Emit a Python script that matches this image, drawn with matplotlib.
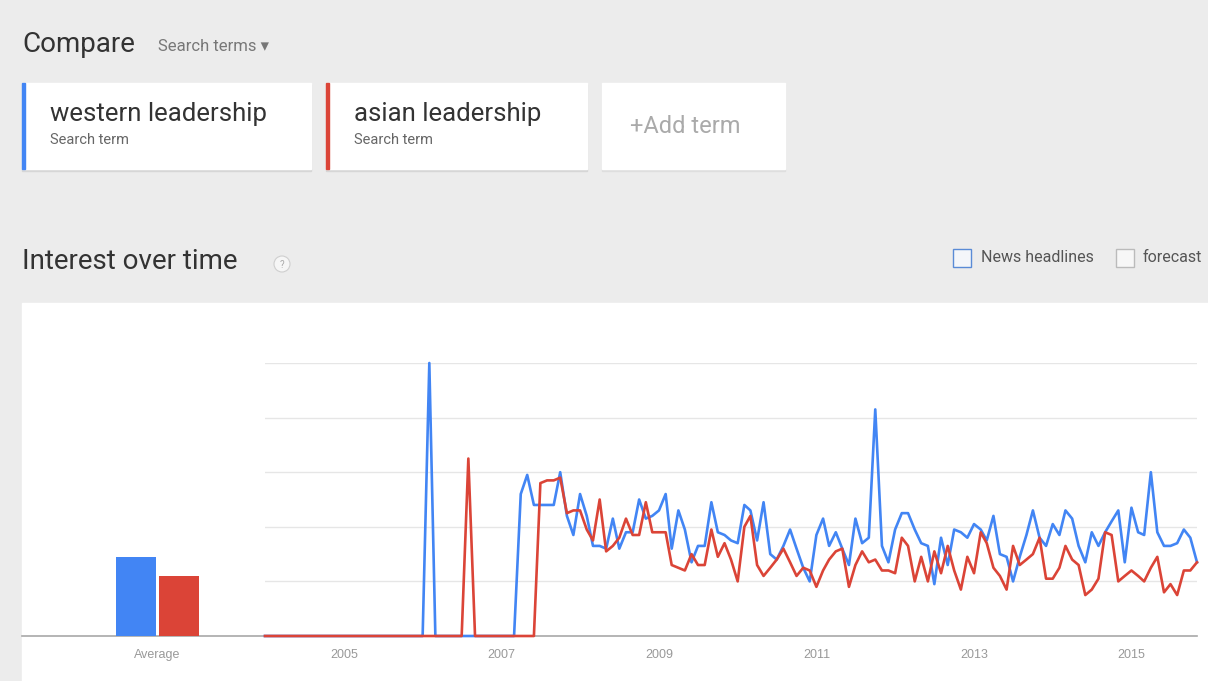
import matplotlib.pyplot as plt
from matplotlib.patches import Rectangle, Circle
import pandas as pd

W, H = 1208, 681

# monthly Google Trends interest, Jan 2004 .. Nov 2015
months = pd.date_range("2004-01-01", "2015-11-01", freq="MS")

western = ([0] * 25 + [100] + [0] * 13 +
           [52, 59, 48, 48, 48, 48, 60, 44, 37, 52, 44, 33, 33, 32, 43, 32, 38, 38, 50, 43,
            44, 46, 52, 32, 46, 39, 27, 33, 33, 49, 38, 37, 35, 34, 48, 46, 35, 49, 30, 28,
            33, 39, 32, 25, 20, 37, 43, 33, 38, 32, 26, 43, 34, 36, 83, 33, 27, 39, 45, 45,
            39, 34, 33, 19, 36, 26, 39, 38, 36, 41, 39, 35, 44, 30, 29, 20, 29, 37, 46, 36,
            33, 41, 37, 46, 43, 33, 27, 38, 33, 38, 42, 46, 27, 47, 38, 37, 60, 38, 33, 33,
            34, 39, 36, 27])

asian = ([0] * 31 + [65] + [0] * 10 +
         [56, 57, 57, 58, 45, 46, 46, 39, 35, 50, 31, 33, 36, 43, 37, 37, 49, 38, 38, 38,
          26, 25, 24, 30, 26, 26, 39, 29, 34, 28, 20, 40, 44, 26, 22, 25, 28, 32, 27, 22,
          25, 24, 18, 24, 28, 31, 32, 18, 26, 31, 27, 28, 24, 24, 23, 36, 33, 20, 29, 20,
          31, 23, 33, 24, 17, 29, 23, 38, 34, 25, 22, 17, 33, 26, 28, 30, 36, 21, 21, 25,
          33, 28, 26, 15, 17, 21, 38, 37, 20, 22, 24, 22, 20, 25, 29, 16, 19, 15, 24, 24,
          27])

terms = ["western leadership", "asian leadership"]
averages = [29, 22]
year_ticks = [2005, 2007, 2009, 2011, 2013, 2015]

BLUE = "#4285f4"
RED = "#db4437"
UI = ["Roboto", "DejaVu Sans"]
AX = ["Liberation Sans", "DejaVu Sans"]


def box(x0, y0, x1, y1):
    # pixel rectangle (top-left origin) -> figure fraction
    return [x0 / W, 1 - y1 / H, (x1 - x0) / W, (y1 - y0) / H]


fig = plt.figure(figsize=(W / 100, H / 100), dpi=100)
fig.patch.set_facecolor("#ececec")

# page furniture drawn in pixel coordinates
bg = fig.add_axes([0, 0, 1, 1])
bg.set_xlim(0, W)
bg.set_ylim(H, 0)
bg.axis("off")

bg.text(22, 52, "Compare", fontsize=20, color="#333333", family=UI)
bg.text(158, 51, "Search terms \u25be", fontsize=12, color="#777777", family=UI)

cards = [(22, 311, terms[0], BLUE), (326, 587, terms[1], RED)]
for x0, x1, label, col in cards:
    bg.add_patch(Rectangle((x0, 84), x1 - x0, 87, color="#d6d6d6", zorder=1))
    bg.add_patch(Rectangle((x0, 83), x1 - x0, 86, color="white", zorder=2))
    bg.add_patch(Rectangle((x0, 83), 3, 86, color=col, zorder=3))
    bg.text(x0 + 28, 121, label, fontsize=18.5, color="#333333", family=UI, zorder=4)
    bg.text(x0 + 28, 144, "Search term", fontsize=10.5, color="#666666", family=UI, zorder=4)
bg.add_patch(Rectangle((602, 84), 183, 87, color="#dedede", zorder=1))
bg.add_patch(Rectangle((602, 83), 183, 86, color="white", zorder=2))
bg.text(630, 133, "+Add term", fontsize=17, color="#aaaaaa", family=UI, zorder=4)

bg.text(22, 269, "Interest over time", fontsize=20, color="#333333", family=UI)
bg.add_patch(Circle((282, 264), 8, facecolor="#f6f6f6", edgecolor="#cfcfcf", lw=0.8))
bg.text(282, 264.5, "?", fontsize=7, color="#aaaaaa", ha="center", va="center", family=UI)

bg.add_patch(Rectangle((953, 249), 18, 18, facecolor="#f4f6fa", edgecolor="#5a8bd6", lw=1))
bg.text(981, 258, "News headlines", fontsize=11.5, color="#555555", va="center", family=UI)
bg.add_patch(Rectangle((1116, 249), 18, 18, facecolor="#f7f7f7", edgecolor="#bbbbbb", lw=1))
bg.text(1143, 258, "forecast", fontsize=11.5, color="#555555", va="center", family=UI)

bg.add_patch(Rectangle((22, 303), W - 22, H - 303, color="white", zorder=0))

# average bars
axb = fig.add_axes(box(22, 363, 265, 636))
axb.patch.set_alpha(0)
axb.bar([-0.5, 0.5], averages, width=0.95, color=[BLUE, RED], zorder=3)
axb.set_xlim(-3.15, 2.5)
axb.set_ylim(0, 100)
axb.set_yticks([])
axb.set_xticks([0])
axb.set_xticklabels(["Average"], fontsize=9, color="#999999", family=AX)
axb.tick_params(axis="x", length=0, pad=9.5)
for s in ["top", "left", "right"]:
    axb.spines[s].set_visible(False)
axb.spines["bottom"].set_color("#a8a8a8")
axb.spines["bottom"].set_linewidth(1.2)

# time series
ax = fig.add_axes(box(265, 363, 1197, 636))
ax.patch.set_alpha(0)
ax.plot(months, western, color=BLUE, lw=1.9, clip_on=False, zorder=3)
ax.plot(months, asian, color=RED, lw=1.9, clip_on=False, zorder=4)
ax.set_xlim(months[0], months[-1])
ax.set_ylim(0, 100)
ax.set_yticks([20, 40, 60, 80, 100])
ax.yaxis.grid(True, color="#e6e6e6", lw=1)
ax.tick_params(axis="y", length=0, labelleft=False)
ax.set_xticks([pd.Timestamp(f"{y}-01-01") for y in year_ticks])
ax.set_xticklabels([str(y) for y in year_ticks], fontsize=9, color="#999999", family=AX)
ax.tick_params(axis="x", length=0, pad=9.5)
for s in ["top", "left", "right"]:
    ax.spines[s].set_visible(False)
ax.spines["bottom"].set_color("#a8a8a8")
ax.spines["bottom"].set_linewidth(1.2)

fig.savefig("out.png", dpi=100, facecolor=fig.get_facecolor())
